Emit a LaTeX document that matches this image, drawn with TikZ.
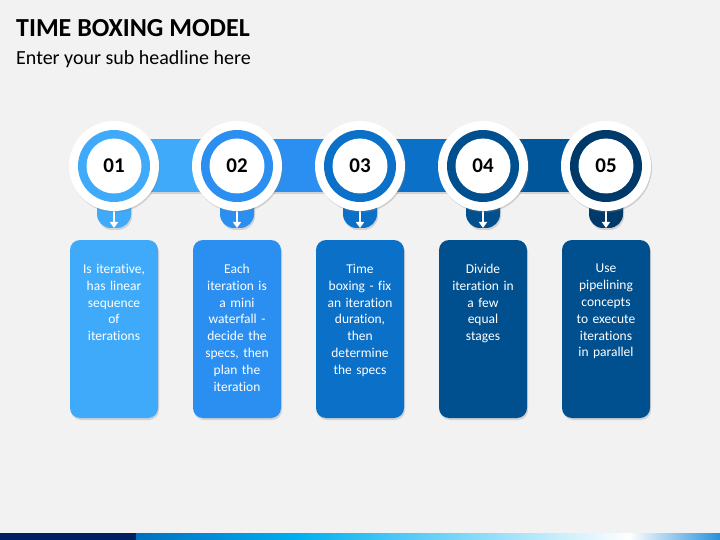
\documentclass[tikz,border=0pt]{standalone}
\usepackage{fontspec}
\setmainfont{Carlito}[Ligatures=NoCommon]
\usetikzlibrary{shadows,arrows.meta}
\definecolor{bg}{RGB}{242,242,242}
\definecolor{cA}{RGB}{63,170,250}
\definecolor{cB}{RGB}{42,143,240}
\definecolor{cC}{RGB}{10,112,200}
\definecolor{cD}{RGB}{0,86,154}
\definecolor{cE}{RGB}{0,80,143}
\definecolor{cR}{RGB}{0,58,106}
\definecolor{navy}{RGB}{0,32,96}
\definecolor{sbA}{RGB}{0,112,192}
\definecolor{sbB}{RGB}{0,176,240}
\definecolor{sbC}{RGB}{40,144,220}
\tikzset{
  shd/.style={drop shadow={opacity=0.28,shadow xshift=1pt,shadow yshift=-2pt}},
  boxshape/.style={rounded corners=10pt,shd},
  numtxt/.style={font=\bfseries\fontsize{21}{24}\selectfont,text=black},
  bodytxt/.style={font=\fontsize{13.5}{16.8}\selectfont,text=white,text width=84pt,align=center,inner sep=0pt,anchor=north},
  tabarrow/.style={white,line width=1.6pt,-{Triangle[length=6pt,width=8pt]}},
}
\begin{document}
\begin{tikzpicture}[x=1pt,y=-1pt]
\fill[bg] (0,0) rectangle (720,540);
\useasboundingbox (0,0) rectangle (720,540);
\node[anchor=base west,inner sep=0pt,font=\bfseries\fontsize{26}{30}\selectfont] (title) at (16,37) {TIME BOXING MODEL};
\node[anchor=base west,inner sep=0pt,font=\fontsize{20}{24}\selectfont] (sub) at (16,65) {Enter your sub headline here};
% band
\fill[cA,shd] (114,139) rectangle (237,192);
\fill[cB,shd] (237,139) rectangle (360,192);
\fill[cC,shd] (360,139) rectangle (483,192);
\fill[cD,shd] (483,139) rectangle (606,192);
% items
\foreach \x/\c/\r/\n/\name in {114/cA/cA/01/a,237/cB/cB/02/b,360/cC/cC/03/c,483/cE/cE/04/d,606/cR/cR/05/e}{
  \fill[\r,rounded corners=14pt,shd] (\x-17,190) -- (\x-17,228) -- (\x+17,228) -- (\x+17,190) -- cycle;
  \coordinate (ts\name) at (\x,209);
  \coordinate (te\name) at (\x,228);
  \draw[tabarrow] (ts\name) -- (te\name);
  \fill[white,drop shadow={opacity=0.3,shadow xshift=1pt,shadow yshift=-1.5pt}] (\x,166) circle (45);
  \fill[\r] (\x,166) circle (36);
  \node[circle,fill=white,minimum size=55pt,inner sep=0pt,numtxt] (n\name) at (\x,166) {\n};
}
\foreach \x/\c/\name in {114/cA/a,237/cB/b,360/cC/c,483/cE/d,606/cE/e}{
  \fill[\c,boxshape] (\x-44,240) rectangle (\x+44,418);
}
\node[bodytxt] (ta) at (114,264) {Is iterative,\\has linear\\sequence\\of\\iterations};
\node[bodytxt] (tb) at (237,264) {Each\\iteration is\\a mini\\waterfall -\\decide the\\specs, then\\plan the\\iteration};
\node[bodytxt] (tc) at (360,264) {Time\\boxing - fix\\an iteration\\duration,\\then\\determine\\the specs};
\node[bodytxt] (td) at (483,264) {Divide\\iteration in\\a few\\equal\\stages};
\node[bodytxt] (te) at (606,264) {Use\\pipelining\\concepts\\to execute\\iterations\\in parallel};
% bottom strip
\fill[navy] (0,533) rectangle (137,540);
\shade[left color=sbA,right color=sbB] (136,533) rectangle (300,540);
\shade[left color=sbB,right color=white] (299,533) rectangle (630,540);
\shade[left color=white,right color=sbC] (629,533) rectangle (720,540);
\end{tikzpicture}
\end{document}
